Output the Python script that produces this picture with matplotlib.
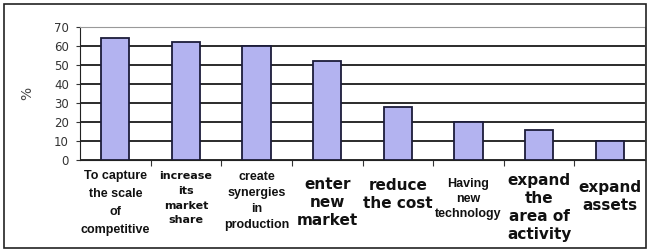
import matplotlib.pyplot as plt
from matplotlib.patches import Rectangle

categories = [
    "To capture\nthe scale\nof\ncompetitive",
    "increase\nits\nmarket\nshare",
    "create\nsynergies\nin\nproduction",
    "enter\nnew\nmarket",
    "reduce\nthe cost",
    "Having\nnew\ntechnology",
    "expand\nthe\narea of\nactivity",
    "expand\nassets",
]
values = [64, 62, 60, 52, 28, 20, 16, 10]

# per-label look: (family, size, linespacing, top offset in px below axis)
label_styles = [
    ("Liberation Sans", 9, 1.65, 10.5),
    ("DejaVu Sans", 8, 1.6, 11),
    ("Liberation Sans", 9, 1.42, 11.5),
    ("DejaVu Sans", 11, 1.24, 17),
    ("DejaVu Sans", 11, 1.24, 18),
    ("Liberation Sans", 9, 1.36, 17.5),
    ("DejaVu Sans", 11, 1.24, 13),
    ("DejaVu Sans", 11, 1.24, 20),
]

fig = plt.figure(figsize=(6.5, 2.52), dpi=100)
ax = fig.add_axes([80 / 650, 1 - 160 / 252, 565 / 650, 133 / 252])

x = range(len(values))
ax.bar(x, values, width=0.4, color="#b3b3f0", edgecolor="#1c1c3a", linewidth=1.3, zorder=3)

ax.set_xlim(-0.5, len(values) - 0.5)
ax.set_ylim(0, 70)
ax.set_yticks(range(0, 71, 10))
ax.tick_params(axis="y", labelsize=8.5, length=3, pad=5, labelcolor="#333333", color="#333333")
ax.yaxis.grid(True, color="#1a1a1a", linewidth=1.3, zorder=0)
ax.set_ylabel("%", fontsize=10, labelpad=14, color="#444444")

ax.set_xticks([i + 0.5 for i in range(len(values) - 1)])
ax.set_xticklabels([])
ax.tick_params(axis="x", length=4, color="#333333")

for i, lab in enumerate(categories):
    fam, size, ls, off = label_styles[i]
    ax.annotate(lab, xy=(i, 0), xycoords=("data", "axes fraction"),
                xytext=(0, -off * 0.72), textcoords="offset points",
                ha="center", va="top", fontsize=size, fontweight="bold",
                family=fam, linespacing=ls, color="#111111", annotation_clip=False)

ax.spines["left"].set_color("#222222")
ax.spines["bottom"].set_color("#222222")
ax.spines["top"].set_color("#999999")
ax.spines["right"].set_color("#999999")

fig.patches.append(Rectangle((4 / 650, 4 / 252), 642 / 650, 244 / 252, transform=fig.transFigure,
                             fill=False, edgecolor="#222222", linewidth=1.2))

fig.savefig("out.png", dpi=100)
